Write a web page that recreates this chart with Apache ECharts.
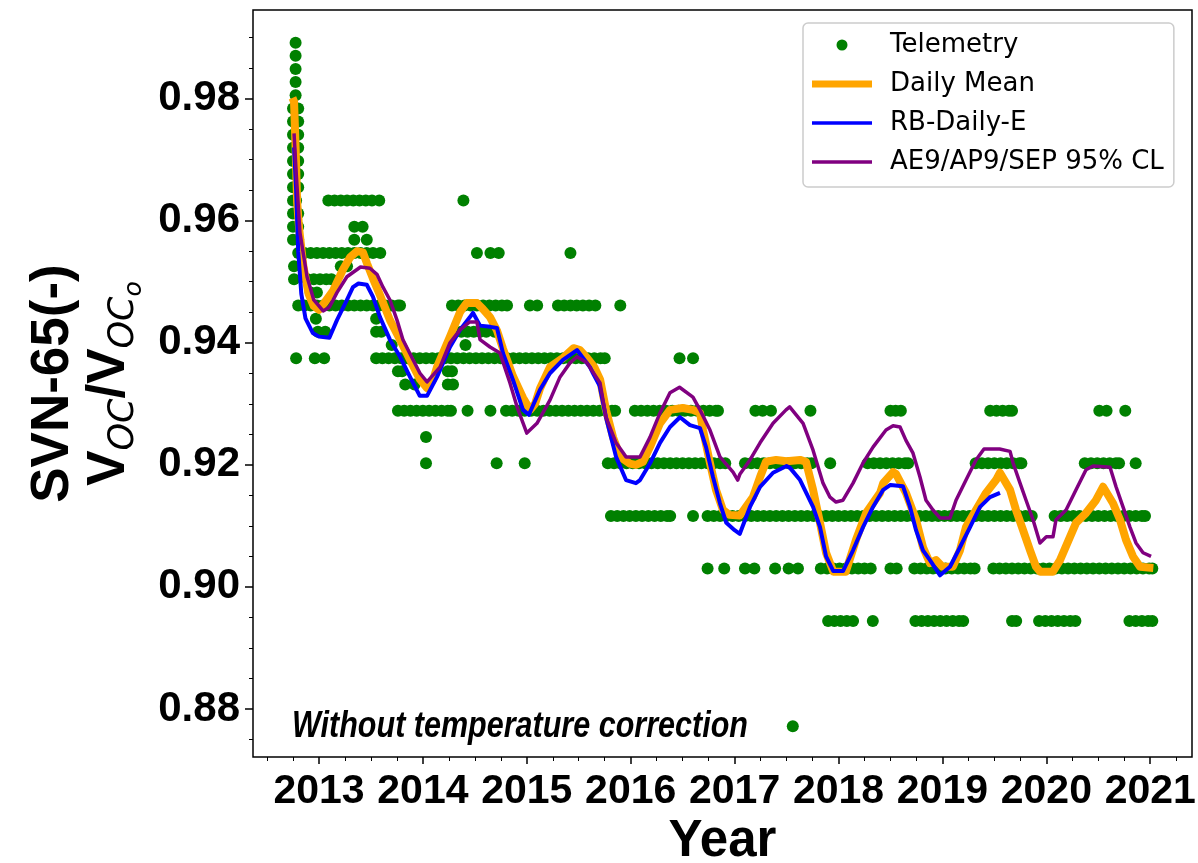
<!DOCTYPE html>
<html><head><meta charset="utf-8">
<script src="https://cdn.jsdelivr.net/npm/echarts@6/dist/echarts.min.js"></script>
<style>html,body{margin:0;padding:0;background:#fff}#c{width:1198px;height:863px}</style>
</head><body><div id="c"></div>
<script>
// ---------------- data ----------------
const yearTicks = [2013, 2014, 2015, 2016, 2017, 2018, 2019, 2020, 2021];
const quarterTicks = [2012.5, 2012.75, 2013.25, 2013.5, 2013.75, 2014.25, 2014.5, 2014.75, 2015.25, 2015.5, 2015.75,
  2016.25, 2016.5, 2016.75, 2017.25, 2017.5, 2017.75, 2018.25, 2018.5, 2018.75, 2019.25, 2019.5, 2019.75,
  2020.25, 2020.5, 2020.75, 2021.25];
const yTicks = [0.88, 0.90, 0.92, 0.94, 0.96, 0.98];
const yMinorTicks = [0.875, 0.885, 0.89, 0.895, 0.905, 0.91, 0.915, 0.925, 0.93, 0.935, 0.945, 0.95, 0.955,
  0.965, 0.97, 0.975, 0.985, 0.99];

// Telemetry: quantised levels, years at which dots appear
const tm_0877 = [2017.56];
const tm_0894 = [2017.90, 2017.96, 2018.02, 2018.08, 2018.14, 2018.33, 2018.74, 2018.80, 2018.86, 2018.92, 2018.98,
  2019.04, 2019.10, 2019.16, 2019.20, 2019.67, 2019.71, 2019.93, 2019.99, 2020.05, 2020.11, 2020.17, 2020.23, 2020.28,
  2020.80, 2020.86, 2020.92, 2020.98, 2021.02];
const tm_0903 = [2016.74, 2016.90, 2017.10, 2017.19, 2017.39, 2017.52, 2017.61, 2017.83, 2017.89, 2017.95, 2018.01,
  2018.07, 2018.13, 2018.19, 2018.25, 2018.31, 2018.50, 2018.56, 2018.73, 2018.79, 2018.85, 2018.91, 2018.97, 2019.03,
  2019.09, 2019.15, 2019.21, 2019.27, 2019.31, 2019.49, 2019.55, 2019.61, 2019.67, 2019.73, 2019.79, 2019.85, 2019.91,
  2019.97, 2020.03, 2020.09, 2020.15, 2020.21, 2020.27, 2020.33, 2020.39, 2020.45, 2020.51, 2020.57, 2020.63, 2020.69,
  2020.75, 2020.81, 2020.87, 2020.93, 2020.99, 2021.02];
const tm_0912 = [2015.81, 2015.87, 2015.93, 2015.99, 2016.05, 2016.11, 2016.17, 2016.23, 2016.29, 2016.35, 2016.38,
  2016.60, 2016.74, 2016.80, 2016.86, 2016.92, 2016.98, 2017.04, 2017.10, 2017.16, 2017.22, 2017.28, 2017.34, 2017.40,
  2017.46, 2017.52, 2017.58, 2017.64, 2017.70, 2017.76, 2017.82, 2017.88, 2017.94, 2018.00, 2018.06, 2018.12, 2018.18,
  2018.24, 2018.30, 2018.36, 2018.42, 2018.48, 2018.54, 2018.60, 2018.66, 2018.72, 2018.78, 2018.84, 2018.90, 2018.96,
  2019.02, 2019.08, 2019.14, 2019.20, 2019.26, 2019.32, 2019.38, 2019.44, 2019.50, 2019.56, 2019.62, 2019.68, 2019.74,
  2019.80, 2019.86, 2020.08, 2020.14, 2020.20, 2020.26, 2020.32, 2020.38, 2020.44, 2020.50, 2020.56, 2020.62, 2020.68,
  2020.74, 2020.80, 2020.86, 2020.92, 2020.95];
const tm_0920 = [2014.03, 2014.71, 2014.98, 2015.78, 2015.84, 2015.90, 2015.96, 2016.02, 2016.08, 2016.14, 2016.20,
  2016.26, 2016.32, 2016.38, 2016.44, 2016.50, 2016.56, 2016.62, 2016.68, 2016.74, 2016.80, 2016.86, 2016.91, 2017.10,
  2017.16, 2017.22, 2017.28, 2017.34, 2017.40, 2017.46, 2017.52, 2017.58, 2017.64, 2017.70, 2017.74, 2017.92, 2018.28,
  2018.34, 2018.40, 2018.46, 2018.52, 2018.58, 2018.64, 2018.67, 2019.32, 2019.38, 2019.44, 2019.50, 2019.56, 2019.62,
  2019.68, 2019.74, 2019.76, 2020.37, 2020.43, 2020.49, 2020.55, 2020.61, 2020.67, 2020.70, 2020.86];
const tm_0925 = [2014.03];
const tm_0929 = [2013.76, 2013.82, 2013.88, 2013.94, 2014.00, 2014.06, 2014.12, 2014.18, 2014.24, 2014.27, 2014.43,
  2014.65, 2014.80, 2014.86, 2014.92, 2014.98, 2015.04, 2015.10, 2015.16, 2015.22, 2015.28, 2015.34, 2015.40, 2015.46,
  2015.52, 2015.58, 2015.64, 2015.70, 2015.76, 2015.82, 2015.85, 2016.04, 2016.10, 2016.16, 2016.22, 2016.28, 2016.34,
  2016.40, 2016.46, 2016.52, 2016.58, 2016.64, 2016.70, 2016.76, 2016.82, 2016.84, 2017.20, 2017.27, 2017.35, 2017.73,
  2018.50, 2018.55, 2018.60, 2019.46, 2019.52, 2019.58, 2019.64, 2019.67, 2020.51, 2020.58, 2020.76];
const tm_0933 = [2013.83, 2013.92, 2014.24, 2014.29];
const tm_0935 = [2013.76, 2013.80, 2014.24, 2014.28];
const tm_0937 = [2012.78, 2012.96, 2013.05, 2013.55, 2013.61, 2013.67, 2013.73, 2013.79, 2013.85, 2013.91, 2013.97,
  2014.03, 2014.09, 2014.15, 2014.21, 2014.27, 2014.33, 2014.39, 2014.45, 2014.51, 2014.57, 2014.63, 2014.69, 2014.75,
  2014.81, 2014.87, 2014.93, 2014.99, 2015.05, 2015.11, 2015.17, 2015.23, 2015.29, 2015.35, 2015.41, 2015.47, 2015.53,
  2015.59, 2015.65, 2015.71, 2015.75, 2016.47, 2016.60];
const tm_0940 = [2013.70, 2014.41];
const tm_0942 = [2012.99, 2013.06, 2013.55, 2013.60, 2014.31, 2014.37, 2014.43, 2014.49, 2014.55, 2014.61, 2014.69];
const tm_0944 = [2012.97, 2013.55];
const tm_0946 = [2012.80, 2012.86, 2012.92, 2012.98, 2013.04, 2013.10, 2013.16, 2013.22, 2013.28, 2013.34, 2013.40,
  2013.46, 2013.52, 2013.58, 2013.64, 2013.70, 2013.76, 2013.78, 2014.28, 2014.34, 2014.40, 2014.46, 2014.52, 2014.58,
  2014.64, 2014.70, 2014.76, 2014.81, 2015.03, 2015.10, 2015.30, 2015.36, 2015.42, 2015.48, 2015.54, 2015.60, 2015.66,
  2015.90];
const tm_0948 = [2012.92, 2012.98];
const tm_0950 = [2012.89, 2012.95, 2013.01, 2013.07, 2013.12];
const tm_0953 = [2013.21, 2013.27];
const tm_0955 = [2012.80, 2012.86, 2012.92, 2012.98, 2013.04, 2013.10, 2013.16, 2013.22, 2013.28, 2013.34, 2013.40,
  2013.46, 2013.52, 2013.59, 2014.52, 2014.65, 2014.73, 2015.42];
const tm_0957 = [2013.34, 2013.46];
const tm_0959 = [2013.34, 2013.42];
const tm_0963 = [2012.78, 2013.09, 2013.15, 2013.21, 2013.27, 2013.33, 2013.39, 2013.45, 2013.51, 2013.58, 2014.39];
// first days after launch: [year, value]
const tm_spike = [[2012.775, 0.98915], [2012.775, 0.98699], [2012.775, 0.98484], [2012.775, 0.98269], [2012.775, 0.98053],
  [2012.75, 0.97838], [2012.80, 0.97838], [2012.75, 0.97623], [2012.80, 0.97623], [2012.75, 0.97408], [2012.80, 0.97408],
  [2012.75, 0.97192], [2012.80, 0.97192], [2012.75, 0.96977], [2012.80, 0.96977], [2012.75, 0.96762], [2012.80, 0.96762],
  [2012.75, 0.96546], [2012.80, 0.96546], [2012.75, 0.96331], [2012.75, 0.96116], [2012.80, 0.96116], [2012.75, 0.95900],
  [2012.80, 0.95900], [2012.75, 0.95685], [2012.80, 0.95685], [2012.76, 0.95254], [2012.76, 0.95039]];

const telemetryRows = [
  [0.87719, tm_0877], [0.89441, tm_0894], [0.90302, tm_0903], [0.91163, tm_0912], [0.92025, tm_0920],
  [0.92455, tm_0925], [0.92886, tm_0929], [0.93317, tm_0933], [0.93532, tm_0935], [0.93747, tm_0937],
  [0.93963, tm_0940], [0.94178, tm_0942], [0.94393, tm_0944], [0.94608, tm_0946], [0.94824, tm_0948],
  [0.95039, tm_0950], [0.95254, tm_0953], [0.95470, tm_0955], [0.95685, tm_0957], [0.95900, tm_0959],
  [0.96331, tm_0963]
];

const dailyMean = [[2012.745, 0.9801], [2012.76, 0.9795], [2012.775, 0.972], [2012.79, 0.963], [2012.81, 0.9585],
  [2012.85, 0.9525], [2012.90, 0.9480], [2012.95, 0.9460], [2013.00, 0.9454], [2013.05, 0.9465], [2013.135, 0.9485],
  [2013.231, 0.9520], [2013.30, 0.9540], [2013.366, 0.9550], [2013.423, 0.9548], [2013.462, 0.9530], [2013.52, 0.9505],
  [2013.587, 0.9478], [2013.683, 0.9437], [2013.78, 0.9405], [2013.876, 0.9372], [2013.972, 0.9340], [2014.039, 0.9326],
  [2014.10, 0.9340], [2014.136, 0.9360], [2014.261, 0.9410], [2014.357, 0.9450], [2014.42, 0.9465], [2014.52, 0.9465],
  [2014.578, 0.9455], [2014.646, 0.9442], [2014.713, 0.9420], [2014.771, 0.9390], [2014.867, 0.9345], [2014.963, 0.9310],
  [2015.031, 0.9290], [2015.08, 0.9300], [2015.127, 0.9325], [2015.223, 0.9360], [2015.348, 0.9375], [2015.45, 0.9391],
  [2015.512, 0.9388], [2015.58, 0.9375], [2015.65, 0.9360], [2015.705, 0.9340], [2015.762, 0.9290], [2015.83, 0.9245],
  [2015.90, 0.9213], [2015.99, 0.9202], [2016.05, 0.9200], [2016.118, 0.9205], [2016.185, 0.9229], [2016.282, 0.9268],
  [2016.378, 0.9290], [2016.50, 0.9293], [2016.60, 0.9290], [2016.667, 0.9285], [2016.696, 0.9257], [2016.763, 0.9203],
  [2016.821, 0.9159], [2016.888, 0.9126], [2016.95, 0.9118], [2017.05, 0.9117], [2017.177, 0.9147], [2017.245, 0.9180],
  [2017.302, 0.9205], [2017.40, 0.9208], [2017.50, 0.9206], [2017.63, 0.9208], [2017.687, 0.9205], [2017.755, 0.9159],
  [2017.822, 0.9105], [2017.88, 0.9056], [2017.95, 0.9025], [2018.07, 0.9025], [2018.168, 0.9077], [2018.265, 0.9121],
  [2018.40, 0.9154], [2018.43, 0.9170], [2018.525, 0.9188], [2018.553, 0.9185], [2018.649, 0.9154], [2018.746, 0.9110],
  [2018.813, 0.9065], [2018.88, 0.9039], [2018.938, 0.9044], [2019.00, 0.9033], [2019.10, 0.9033], [2019.169, 0.9060],
  [2019.227, 0.9098], [2019.323, 0.9126], [2019.42, 0.9154], [2019.516, 0.9175], [2019.554, 0.9187], [2019.651, 0.9159],
  [2019.708, 0.9126], [2019.776, 0.9093], [2019.843, 0.9060], [2019.901, 0.9033], [2019.94, 0.9025], [2020.064, 0.9025],
  [2020.132, 0.9044], [2020.228, 0.9082], [2020.286, 0.9105], [2020.382, 0.9121], [2020.478, 0.9142], [2020.546, 0.9164],
  [2020.642, 0.9137], [2020.709, 0.9110], [2020.767, 0.9077], [2020.834, 0.9050], [2020.902, 0.9033], [2021.03, 0.9031]];

const rbDailyE = [[2012.76, 0.972], [2012.78, 0.965], [2012.80, 0.955], [2012.83, 0.948], [2012.87, 0.9440],
  [2012.94, 0.9416], [2013.00, 0.9410], [2013.10, 0.9408], [2013.173, 0.9437], [2013.269, 0.9470], [2013.327, 0.9491],
  [2013.38, 0.9497], [2013.46, 0.9495], [2013.52, 0.9475], [2013.587, 0.9442], [2013.683, 0.9405], [2013.78, 0.9377],
  [2013.876, 0.9344], [2013.97, 0.9313], [2014.04, 0.9313], [2014.136, 0.9344], [2014.261, 0.9393], [2014.357, 0.9421],
  [2014.453, 0.9442], [2014.482, 0.9449], [2014.55, 0.9428], [2014.65, 0.9426], [2014.713, 0.9424], [2014.771, 0.9383],
  [2014.867, 0.9339], [2014.963, 0.9290], [2015.02, 0.9282], [2015.127, 0.9323], [2015.223, 0.9350], [2015.348, 0.9372],
  [2015.483, 0.9388], [2015.608, 0.9360], [2015.637, 0.9350], [2015.70, 0.9330], [2015.762, 0.9278], [2015.859, 0.9213],
  [2015.955, 0.9175], [2016.05, 0.9170], [2016.09, 0.9175], [2016.185, 0.9202], [2016.282, 0.9236], [2016.378, 0.9262],
  [2016.474, 0.9278], [2016.57, 0.9265], [2016.667, 0.9260], [2016.725, 0.9229], [2016.792, 0.9180], [2016.859, 0.9137],
  [2016.92, 0.9105], [2017.00, 0.9093], [2017.05, 0.9087], [2017.148, 0.9131], [2017.245, 0.9164], [2017.37, 0.9187],
  [2017.50, 0.9198], [2017.533, 0.9195], [2017.63, 0.9175], [2017.755, 0.9131], [2017.822, 0.9098], [2017.88, 0.9050],
  [2017.95, 0.9026], [2018.043, 0.9026], [2018.14, 0.9060], [2018.236, 0.9098], [2018.332, 0.9131], [2018.43, 0.9159],
  [2018.50, 0.9167], [2018.62, 0.9165], [2018.688, 0.9131], [2018.746, 0.9093], [2018.813, 0.9060], [2018.88, 0.9044],
  [2018.977, 0.9019], [2019.073, 0.9033], [2019.169, 0.9065], [2019.266, 0.9098], [2019.362, 0.9131], [2019.458, 0.9147],
  [2019.554, 0.9154]];

const ae9ap9sep = [[2012.76, 0.9743], [2012.78, 0.968], [2012.817, 0.958], [2012.885, 0.9508], [2012.95, 0.9470],
  [2013.04, 0.9452], [2013.10, 0.9458], [2013.173, 0.9482], [2013.269, 0.9508], [2013.40, 0.9524], [2013.49, 0.9522],
  [2013.558, 0.9512], [2013.616, 0.9491], [2013.683, 0.9470], [2013.751, 0.9437], [2013.808, 0.9405], [2013.905, 0.9372],
  [2013.972, 0.9350], [2014.04, 0.9336], [2014.165, 0.9360], [2014.261, 0.9400], [2014.357, 0.9421], [2014.45, 0.9434],
  [2014.52, 0.9434], [2014.55, 0.9405], [2014.646, 0.9393], [2014.742, 0.9383], [2014.838, 0.9334], [2014.906, 0.9295],
  [2015.00, 0.9252], [2015.098, 0.9268], [2015.223, 0.9306], [2015.32, 0.9344], [2015.416, 0.9367], [2015.483, 0.9377],
  [2015.579, 0.9367], [2015.705, 0.9334], [2015.762, 0.9278], [2015.859, 0.9236], [2015.955, 0.9213], [2016.09, 0.9213],
  [2016.185, 0.9245], [2016.282, 0.9285], [2016.378, 0.9318], [2016.47, 0.9327], [2016.599, 0.9311], [2016.667, 0.9290],
  [2016.763, 0.9257], [2016.859, 0.9213], [2016.985, 0.9188], [2017.03, 0.9175], [2017.052, 0.9185], [2017.148, 0.9208],
  [2017.245, 0.9236], [2017.37, 0.9268], [2017.495, 0.9290], [2017.53, 0.9295], [2017.659, 0.9268], [2017.755, 0.9224],
  [2017.851, 0.9170], [2017.918, 0.9147], [2017.976, 0.9139], [2018.043, 0.9142], [2018.14, 0.9170], [2018.236, 0.9203],
  [2018.332, 0.9229], [2018.457, 0.9257], [2018.525, 0.9264], [2018.592, 0.9262], [2018.649, 0.9240], [2018.717, 0.9219],
  [2018.784, 0.9180], [2018.842, 0.9142], [2018.909, 0.9126], [2018.977, 0.9113], [2019.073, 0.9113], [2019.131, 0.9142],
  [2019.227, 0.9175], [2019.323, 0.9208], [2019.40, 0.9226], [2019.55, 0.9226], [2019.651, 0.9222], [2019.68, 0.9203],
  [2019.747, 0.9170], [2019.805, 0.9142], [2019.872, 0.9110], [2019.939, 0.9072], [2020.00, 0.9082], [2020.064, 0.9082],
  [2020.093, 0.9110], [2020.19, 0.9126], [2020.286, 0.9159], [2020.382, 0.9192], [2020.45, 0.9198], [2020.613, 0.9196],
  [2020.671, 0.9164], [2020.738, 0.9131], [2020.805, 0.9098], [2020.863, 0.9072], [2020.931, 0.9056], [2021.008, 0.9050]];

// ---------------- build ----------------
const telemetryPoints = [];
telemetryRows.forEach(function (row) {
  row[1].forEach(function (yr) { telemetryPoints.push([yr, row[0]]); });
});
tm_spike.forEach(function (p) { telemetryPoints.push(p); });

const X_MIN = 2012.365, X_MAX = 2021.402, Y_MIN = 0.87214, Y_MAX = 0.9945;
const SANS = "'Liberation Sans', Arial, sans-serif";

const chart = echarts.init(document.getElementById('c'), null, { renderer: 'canvas' });
chart.setOption({
  animation: false,
  backgroundColor: '#ffffff',
  grid: { left: 253, right: 6, top: 10, bottom: 106, show: true, borderColor: '#000', borderWidth: 1.5,
          containLabel: false, outerBoundsMode: 'none' },
  legend: {
    orient: 'vertical', left: 803, top: 23, padding: [9, 10, 12, 9],
    itemWidth: 60, itemHeight: 11, itemGap: 13,
    borderColor: '#cccccc', borderWidth: 1.5, borderRadius: 5, backgroundColor: 'rgba(255,255,255,0.8)',
    textStyle: { fontFamily: "'DejaVu Sans'", fontSize: 26, color: '#000', padding: [0, 0, 0, 13] },
    itemStyle: { borderWidth: 0, opacity: 1 },
    selectedMode: false,
    data: [
      { name: 'Telemetry', icon: 'circle' },
      { name: 'Daily Mean', icon: 'path://M0,0H60V7H0Z' },
      { name: 'RB-Daily-E', icon: 'path://M0,0H60V3.5H0Z' },
      { name: 'AE9/AP9/SEP 95% CL', icon: 'path://M0,0H60V3.5H0Z' }
    ]
  },
  xAxis: [{
    type: 'value', min: X_MIN, max: X_MAX, position: 'bottom',
    axisLine: { show: false }, splitLine: { show: false },
    axisTick: { show: true, customValues: yearTicks, length: 7, lineStyle: { color: '#000', width: 1.5 } },
    axisLabel: { customValues: yearTicks, fontFamily: SANS, fontWeight: 'bold', fontSize: 41, color: '#000', margin: 14,
      formatter: function (v) { return String(Math.round(v)); } },
    name: 'Year', nameLocation: 'middle', nameGap: 50,
    nameTextStyle: { fontFamily: SANS, fontWeight: 'bold', fontSize: 51, color: '#000' }
  }, {
    type: 'value', min: X_MIN, max: X_MAX, position: 'bottom',
    axisLine: { show: false }, splitLine: { show: false }, axisLabel: { show: false },
    axisTick: { show: true, customValues: quarterTicks, length: 4, lineStyle: { color: '#000', width: 1 } }
  }],
  yAxis: [{
    type: 'value', min: Y_MIN, max: Y_MAX, position: 'left',
    axisLine: { show: false }, splitLine: { show: false },
    axisTick: { show: true, customValues: yTicks, length: 8, lineStyle: { color: '#000', width: 1.5 } },
    axisLabel: { customValues: yTicks, fontFamily: SANS, fontWeight: 'bold', fontSize: 42, color: '#000', margin: 13,
      formatter: function (v) { return v.toFixed(2); } },
    name: '{a|SVN-65(-)}\n{v|V}{s|OC}{v|/V}{s|OC}{o|o}',
    nameLocation: 'middle', nameRotate: 90, nameGap: 112,
    nameTextStyle: {
      align: 'center',
      rich: {
        a: { fontFamily: SANS, fontWeight: 'bold', fontSize: 53, color: '#000', lineHeight: 56 },
        v: { fontFamily: SANS, fontWeight: 'bold', fontSize: 53, color: '#000', lineHeight: 56 },
        s: { fontFamily: "'DejaVu Sans'", fontStyle: 'italic', fontSize: 35, color: '#000', lineHeight: 35, padding: [28, 0, 0, 0] },
        o: { fontFamily: "'DejaVu Sans'", fontStyle: 'italic', fontSize: 25, color: '#000', lineHeight: 25, padding: [50, 0, 0, 0] }
      }
    }
  }, {
    type: 'value', min: Y_MIN, max: Y_MAX, position: 'left',
    axisLine: { show: false }, splitLine: { show: false }, axisLabel: { show: false },
    axisTick: { show: true, customValues: yMinorTicks, length: 4, lineStyle: { color: '#000', width: 1 } }
  }],
  graphic: [{
    type: 'text', x: 292, y: 708, scaleX: 0.825, silent: true,
    style: { text: 'Without temperature correction', fill: '#000',
      font: "italic bold 37px 'Liberation Sans', Arial, sans-serif" }
  }],
  series: [{
    name: 'Telemetry', type: 'scatter', data: telemetryPoints, symbol: 'circle', symbolSize: 12,
    itemStyle: { color: '#008000', opacity: 1 }, silent: true, z: 2
  }, {
    name: 'Daily Mean', type: 'line', data: dailyMean, showSymbol: false, symbol: 'none',
    lineStyle: { color: '#FFA500', width: 8, join: 'round' }, itemStyle: { color: '#FFA500' }, silent: true, z: 3
  }, {
    name: 'RB-Daily-E', type: 'line', data: rbDailyE, showSymbol: false, symbol: 'none',
    lineStyle: { color: '#0000FF', width: 4, join: 'round' }, itemStyle: { color: '#0000FF' }, silent: true, z: 4
  }, {
    name: 'AE9/AP9/SEP 95% CL', type: 'line', data: ae9ap9sep, showSymbol: false, symbol: 'none',
    lineStyle: { color: '#800080', width: 3.5, join: 'round' }, itemStyle: { color: '#800080' }, silent: true, z: 5
  }]
});
</script></body></html>
